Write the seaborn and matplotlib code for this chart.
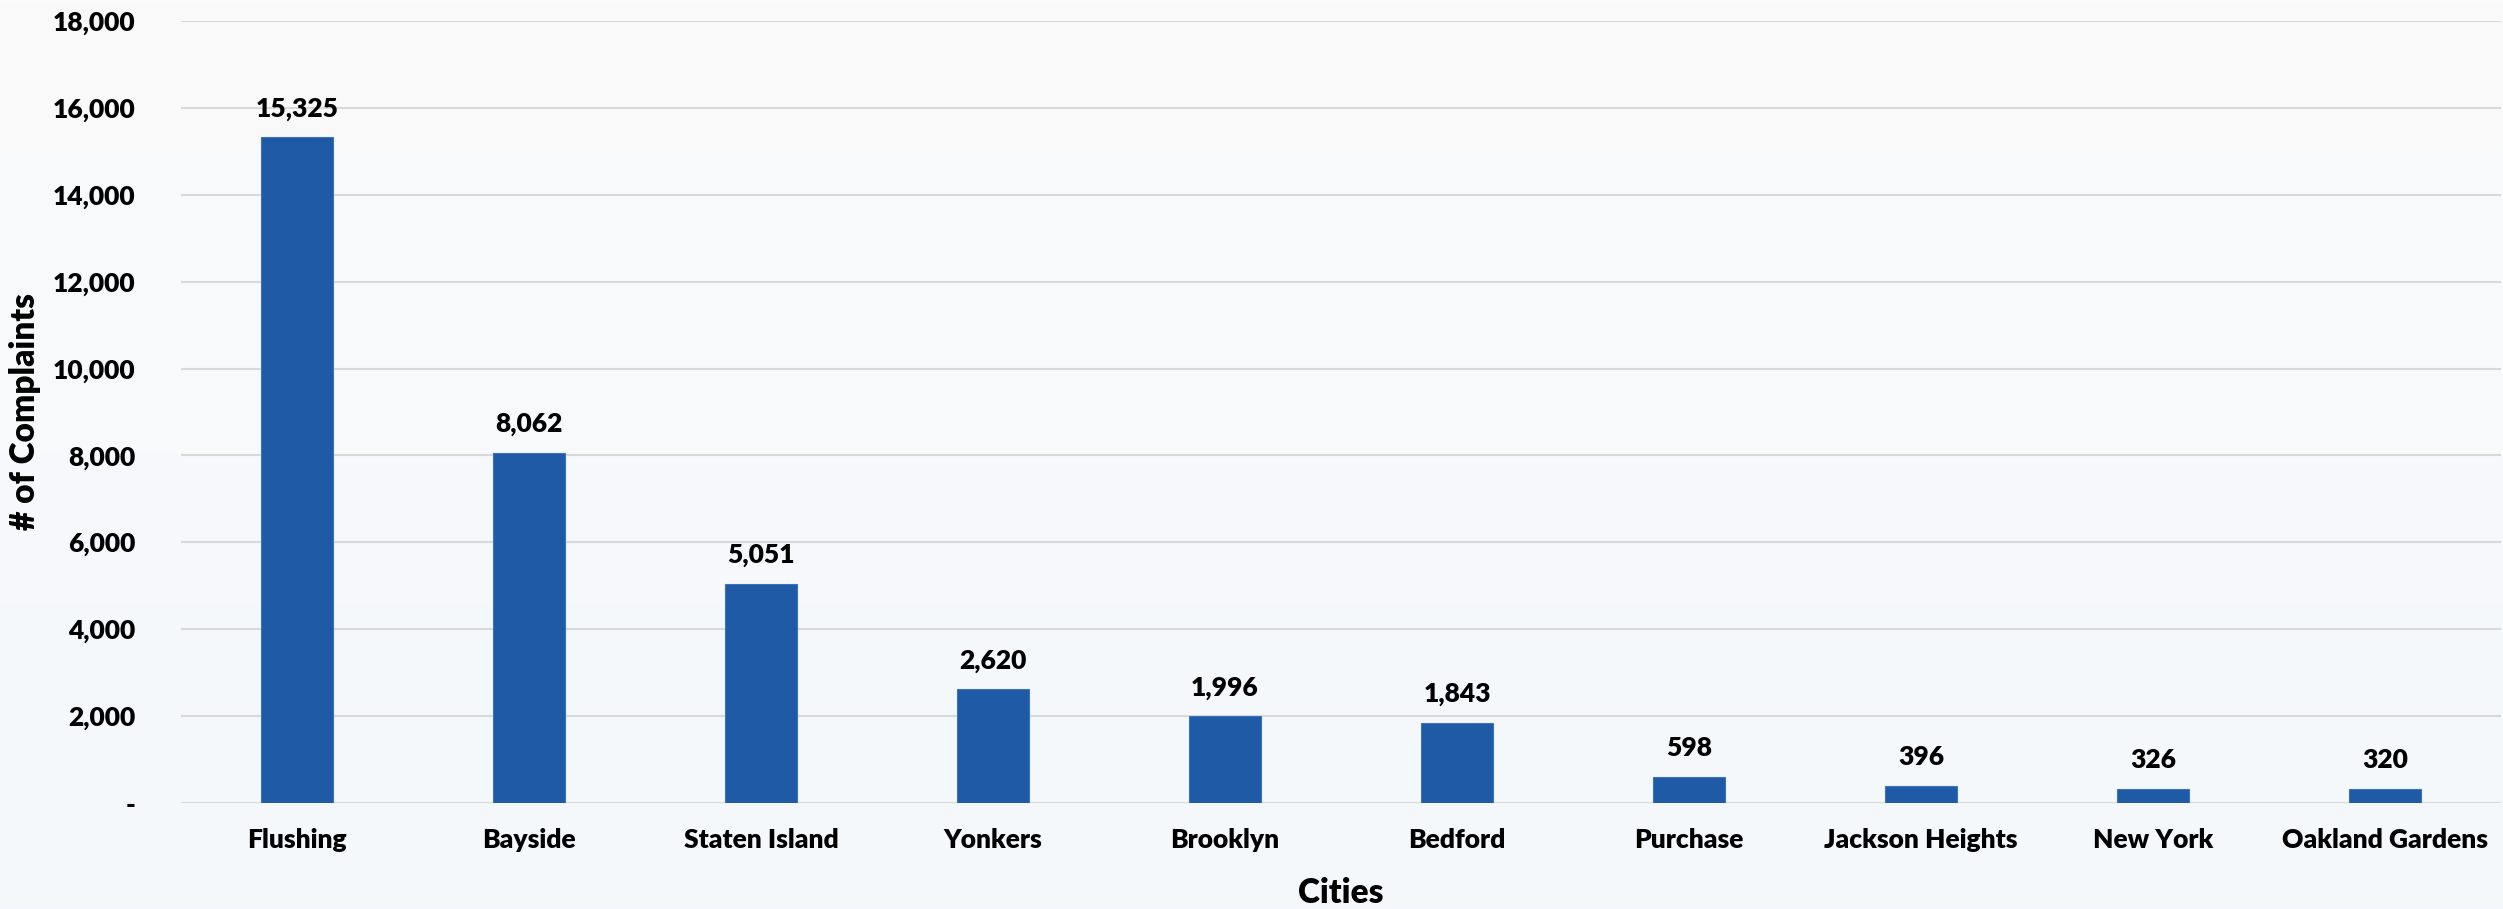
import numpy as np
import pandas as pd
import matplotlib
matplotlib.use("Agg")
import matplotlib.pyplot as plt
import seaborn as sns
from matplotlib.ticker import FuncFormatter

cities = ["Flushing", "Bayside", "Staten Island", "Yonkers", "Brooklyn",
          "Bedford", "Purchase", "Jackson Heights", "New York", "Oakland Gardens"]
complaints = [15325, 8062, 5051, 2620, 1996, 1843, 598, 396, 326, 320]

df = pd.DataFrame({"City": cities, "Complaints": complaints})

sns.set_theme(style="white")
plt.rcParams["font.family"] = ["Lato", "DejaVu Sans"]
W = 800  # heavy text weight

fig = plt.figure(figsize=(25.03, 9.09), dpi=100)

# soft vertical background gradient
bg = fig.add_axes([0, 0, 1, 1], zorder=-10)
grad = np.linspace(0, 1, 256).reshape(-1, 1)
top = np.array([250, 250, 250]) / 255
bottom = np.array([244, 248, 252]) / 255
img = top[None, None, :] * (1 - grad[..., None]) + bottom[None, None, :] * grad[..., None]
bg.imshow(img, aspect="auto", extent=[0, 1, 0, 1])
bg.axis("off")

ax = fig.add_axes([181 / 2503, 1 - 803 / 909, 2320 / 2503, 782 / 909])
ax.patch.set_alpha(0)

sns.barplot(data=df, x="City", y="Complaints", color="#1F5AA6",
            width=0.31, ax=ax, edgecolor="#3F73B8", linewidth=0.8,
            saturation=1, zorder=3)

ax.set_ylim(0, 18000)
ax.set_xlim(-0.5, len(cities) - 0.5)
ax.set_yticks(np.arange(0, 18001, 2000))
ax.yaxis.set_major_formatter(FuncFormatter(lambda v, p: "-" if v == 0 else f"{int(v):,}"))
ax.grid(axis="y", color="#D9D9D9", linewidth=1.5, zorder=0)
ax.grid(axis="x", visible=False)
for s in ax.spines.values():
    s.set_visible(False)

ax.tick_params(axis="y", labelsize=19, pad=33, length=0)
ax.tick_params(axis="x", labelsize=19, pad=18, length=0)
for lab in ax.get_xticklabels() + ax.get_yticklabels():
    lab.set_fontweight(W)
    lab.set_color("black")

for i, v in enumerate(complaints):
    ax.annotate(f"{v:,}", (i, v), xytext=(0, 12), textcoords="offset points",
                ha="center", va="bottom", fontsize=19, fontweight=W, color="black")

ax.set_xlabel("Cities", fontsize=24, fontweight=W, color="black", labelpad=18)
ax.set_ylabel("# of Complaints", fontsize=24, fontweight=W, color="black", labelpad=8)

fig.savefig("out.png", dpi=100)
